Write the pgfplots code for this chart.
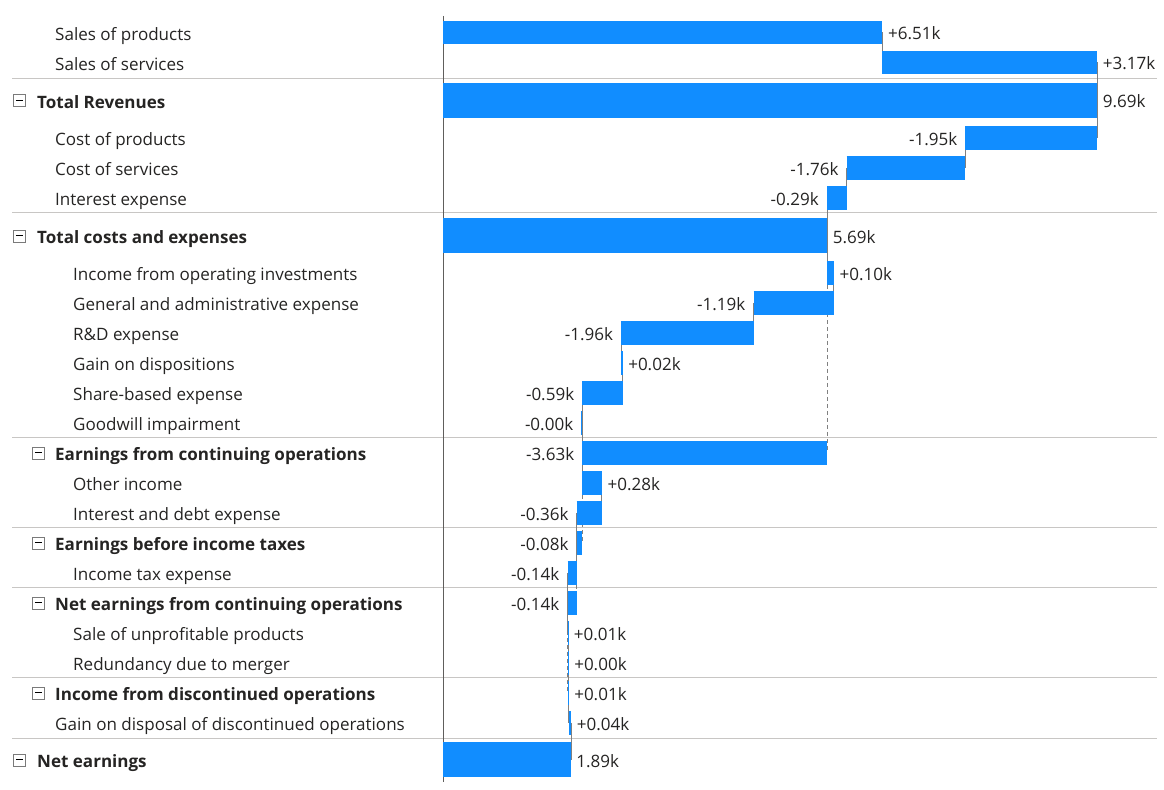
\documentclass[border=0pt]{standalone}
\usepackage{pgfplots}
\pgfplotsset{compat=1.18}
\usepackage{pgfplotstable}
\usepackage{fontspec}
\setmainfont{Open Sans}

\definecolor{barblue}{HTML}{118DFF}
\definecolor{txt}{HTML}{252423}
\definecolor{sepgray}{HTML}{C8C6C4}
\definecolor{axgray}{HTML}{605E5C}
\definecolor{cngray}{HTML}{808080}
\definecolor{boxgray}{HTML}{7A7A7A}

\newcommand\rowfont{\fontsize{17.1}{20}\selectfont}
\newcommand\valfont{\fontsize{17.1}{20}\selectfont}

% y = row centre (px from top), lo/hi = bar ends in k
\pgfplotstableread{
y      lo     hi     lab     side
32.5   0      6.51   +6.51k  1
62.5   6.51   9.69   +3.17k  1
138    7.74   9.69   -1.95k  0
168    5.98   7.74   -1.76k  0
198    5.69   5.98   -0.29k  0
273    5.69   5.79   +0.10k  1
303    4.60   5.79   -1.19k  0
333    2.64   4.60   -1.96k  0
363    2.64   2.66   +0.02k  1
393    2.065  2.66   -0.59k  0
423    2.05   2.065  -0.00k  0
453    2.065  5.69   -3.63k  0
483    2.065  2.355  +0.28k  1
513    1.98   2.355  -0.36k  0
543    1.98   2.065  -0.08k  0
573    1.845  1.98   -0.14k  0
603    1.845  1.98   -0.14k  0
633    1.845  1.855  +0.01k  1
663    1.855  1.86   +0.00k  1
693    1.845  1.86   +0.01k  1
723    1.86   1.90   +0.04k  1
}\steps

\pgfplotstableread{
y      lo  hi    lab    side
100.5  0   9.69  9.69k  1
236    0   5.69  5.69k  1
760    0   1.89  1.89k  1
}\totals

% step connectors: x, from y, length
\pgfplotstableread{
x      y      dy
6.51   32.5   30
9.69   62.5   38
9.69   100.5  37.5
7.74   138    30
5.98   168    30
5.69   198    38
5.69   236    37
5.79   273    30
4.60   303    30
2.64   333    30
2.66   363    30
2.065  393    30
2.065  423    30
2.065  453    30
2.355  483    30
1.98   513    30
1.98   543    30
1.845  573    30
1.845  603    30
1.855  633    30
1.86   663    30
1.86   693    30
1.90   723    37
}\links

% subtotal reference lines
\pgfplotstableread{
x      y     dy
5.69   236   217
2.065  453   90
1.98   543   60
1.845  603   90
}\sublinks

\begin{document}
\begin{tikzpicture}[
  lab/.style={anchor=base west, text=txt, inner sep=0pt, yshift=-8bp, font=\rowfont},
  l0/.style={lab, xshift=-406bp, font=\rowfont\bfseries},
  l1/.style={lab, xshift=-388bp},
  l1b/.style={lab, xshift=-388bp, font=\rowfont\bfseries},
  l2/.style={lab, xshift=-370bp},
  tog/.style={draw=boxgray, line width=0.8bp, minimum size=12bp, inner sep=0pt, anchor=west,
    path picture={\draw[black, line width=1bp]
      ([xshift=2.5bp]path picture bounding box.west) -- ([xshift=-2.5bp]path picture bounding box.east);}},
  t0/.style={tog, xshift=-430bp},
  t1/.style={tog, xshift=-411bp},
]
\begin{axis}[
  at={(0,0)}, anchor=south west,
  scale only axis, width=1164bp, height=790bp,
  xmin=-6.5630, xmax=10.6815, ymin=0, ymax=790, y dir=reverse,
  hide axis, clip=false,
  vlab/.style={draw=none, mark=none, nodes near coords, point meta=explicit symbolic,
    every node near coord/.append style={font=\valfont, text=txt, inner sep=0pt, yshift=-7.5bp}},
]
\path (rel axis cs:0,0) rectangle (rel axis cs:1,1);

\pgfplotsinvokeforeach{79,213,438,528,588,678,739}{
  \draw[sepgray, line width=1bp] (axis cs:-6.385,#1) -- (axis cs:10.578,#1);
}
\draw[axgray, line width=1bp] (axis cs:0,16) -- (axis cs:0,782);

% connectors
\addplot[cngray, line width=1bp, -, quiver={u=0, v=\thisrow{dy}}] table[x=x, y=y] {\links};
\addplot[cngray, line width=1bp, -, dash pattern=on 4bp off 3bp, quiver={u=0, v=\thisrow{dy}}] table[x=x, y=y] {\sublinks};

% bars
\addplot[barblue, line width=23.5bp, -, quiver={u=\thisrow{hi}-\thisrow{lo}, v=0}] table[x=lo, y=y] {\steps};
\addplot[barblue, line width=35bp, -, quiver={u=\thisrow{hi}-\thisrow{lo}, v=0}] table[x=lo, y=y] {\totals};

% value labels
\addplot[vlab, nodes near coords align={anchor=base west}, every node near coord/.append style={xshift=5.5bp},
  restrict expr to domain={\thisrow{side}}{0.5:1.5}] table[x=hi, y=y, meta=lab] {\steps};
\addplot[vlab, nodes near coords align={anchor=base east}, every node near coord/.append style={xshift=-8bp},
  restrict expr to domain={\thisrow{side}}{-0.5:0.5}] table[x=lo, y=y, meta=lab] {\steps};
\addplot[vlab, nodes near coords align={anchor=base west}, every node near coord/.append style={xshift=5.5bp}]
  table[x=hi, y=y, meta=lab] {\totals};

% row labels
\node[l1] at (axis cs:0,32.5) {Sales of products};
\node[l1] at (axis cs:0,62.5) {Sales of services};
\node[t0] at (axis cs:0,100.5) {};
\node[l0] at (axis cs:0,100.5) {Total Revenues};
\node[l1] at (axis cs:0,138) {Cost of products};
\node[l1] at (axis cs:0,168) {Cost of services};
\node[l1] at (axis cs:0,198) {Interest expense};
\node[t0] at (axis cs:0,236) {};
\node[l0] at (axis cs:0,236) {Total costs and expenses};
\node[l2] at (axis cs:0,273) {Income from operating investments};
\node[l2] at (axis cs:0,303) {General and administrative expense};
\node[l2] at (axis cs:0,333) {R\&D expense};
\node[l2] at (axis cs:0,363) {Gain on dispositions};
\node[l2] at (axis cs:0,393) {Share-based expense};
\node[l2] at (axis cs:0,423) {Goodwill impairment};
\node[t1] at (axis cs:0,453) {};
\node[l1b] at (axis cs:0,453) {Earnings from continuing operations};
\node[l2] at (axis cs:0,483) {Other income};
\node[l2] at (axis cs:0,513) {Interest and debt expense};
\node[t1] at (axis cs:0,543) {};
\node[l1b] at (axis cs:0,543) {Earnings before income taxes};
\node[l2] at (axis cs:0,573) {Income tax expense};
\node[t1] at (axis cs:0,603) {};
\node[l1b] at (axis cs:0,603) {Net earnings from continuing operations};
\node[l2] at (axis cs:0,633) {Sale of unprofitable products};
\node[l2] at (axis cs:0,663) {Redundancy due to merger};
\node[t1] at (axis cs:0,693) {};
\node[l1b] at (axis cs:0,693) {Income from discontinued operations};
\node[l1] at (axis cs:0,723) {Gain on disposal of discontinued operations};
\node[t0] at (axis cs:0,760) {};
\node[l0] at (axis cs:0,760) {Net earnings};
\end{axis}
\end{tikzpicture}
\end{document}
